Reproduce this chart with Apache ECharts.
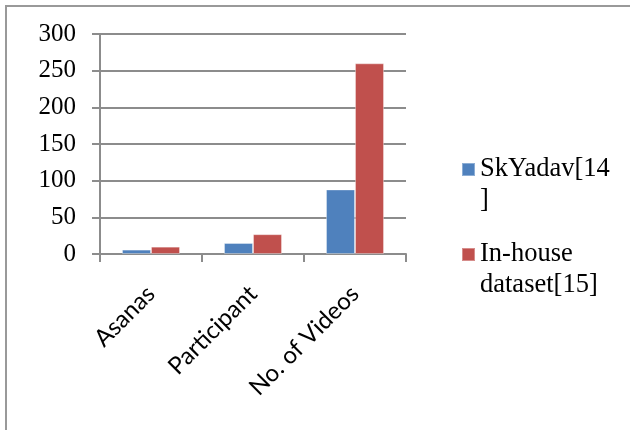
<!DOCTYPE html>
<html>
<head>
<meta charset="utf-8">
<script src="https://cdn.jsdelivr.net/npm/echarts@6/dist/echarts.min.js"></script>
<style>
  html, body { margin: 0; padding: 0; background: #fff; }
  #chart { width: 630px; height: 430px; }
</style>
</head>
<body>
<div id="chart"></div>
<script>
// Dataset comparison: counts per category for two yoga datasets
const categories = ['Asanas', 'Participant', 'No. of Videos'];
const skYadavValues = [6, 15, 88];
const inHouseValues = [10, 27, 260];
const seriesNames = ['SkYadav[14]', 'In-house dataset[15]'];
const legendLabels = ['SkYadav[14\n]', 'In-house\ndataset[15]'];
const yTicks = { min: 0, max: 300, interval: 50 };

const serif = '"Liberation Serif", "Times New Roman", serif';
const sans = 'Lato, "Liberation Sans", sans-serif';
const axisGray = '#8c8c8c';
const legendLine = 31;

const chart = echarts.init(document.getElementById('chart'));

// One legend block per series; a blank leading line keeps the swatch
// level with the first line of the wrapped label.
function legendFor(i, top) {
  return {
    show: true,
    data: [seriesNames[i]],
    orient: 'vertical',
    left: 461,
    top: top,
    padding: 0,
    itemWidth: 13,
    itemHeight: 13,
    icon: 'rect',
    selectedMode: false,
    formatter: () => '\n' + legendLabels[i],
    textStyle: {
      fontFamily: serif,
      fontSize: 26.5,
      color: '#000',
      lineHeight: legendLine
    }
  };
}

chart.setOption({
  animation: false,
  backgroundColor: '#fff',
  grid: { left: 100, right: 224, top: 34, bottom: 176, containLabel: false },
  legend: [legendFor(0, 123), legendFor(1, 208)],
  xAxis: {
    type: 'category',
    data: categories,
    boundaryGap: true,
    axisLine: { show: true, lineStyle: { color: axisGray, width: 2 } },
    axisTick: { show: true, length: 8, lineStyle: { color: axisGray, width: 2 } },
    axisLabel: {
      rotate: 45,
      margin: 36,
      fontFamily: sans,
      fontSize: 24,
      color: '#000',
      interval: 0
    }
  },
  yAxis: {
    type: 'value',
    min: yTicks.min,
    max: yTicks.max,
    interval: yTicks.interval,
    axisLine: { show: true, lineStyle: { color: axisGray, width: 2 } },
    axisTick: { show: true, length: 8, lineStyle: { color: axisGray, width: 2 } },
    splitLine: { show: true, lineStyle: { color: axisGray, width: 2 } },
    axisLabel: {
      margin: 24,
      fontFamily: serif,
      fontSize: 25,
      color: '#000'
    }
  },
  series: [
    {
      name: seriesNames[0],
      type: 'bar',
      data: skYadavValues,
      barWidth: 29,
      barGap: '0%',
      itemStyle: { color: '#4f81bd', borderColor: 'rgba(255,255,255,0.35)', borderWidth: 1 }
    },
    {
      name: seriesNames[1],
      type: 'bar',
      data: inHouseValues,
      barWidth: 29,
      barGap: '0%',
      itemStyle: { color: '#c0504d', borderColor: 'rgba(255,255,255,0.35)', borderWidth: 1 }
    }
  ],
  graphic: [
    {
      type: 'rect',
      silent: true,
      shape: { x: 6, y: 6, width: 700, height: 500 },
      style: { fill: 'none', stroke: '#999', lineWidth: 2 }
    }
  ]
});
</script>
</body>
</html>
